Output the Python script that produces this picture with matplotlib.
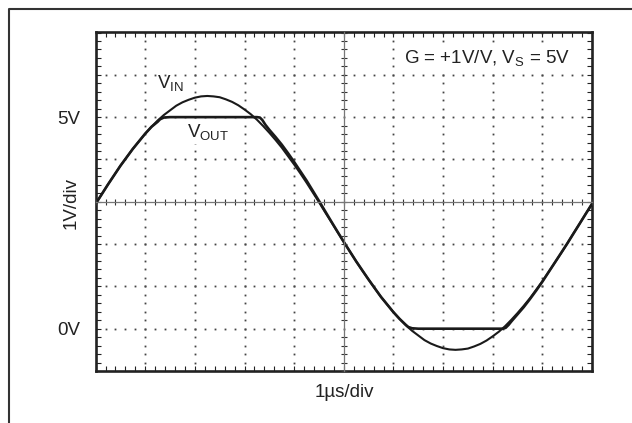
import numpy as np
import matplotlib.pyplot as plt
from matplotlib.lines import Line2D

plt.rcParams['font.family'] = ['Liberation Sans', 'DejaVu Sans']
plt.rcParams['mathtext.fontset'] = 'custom'
plt.rcParams['mathtext.rm'] = 'Liberation Sans'
plt.rcParams['mathtext.it'] = 'Liberation Sans'

# Entrada (VIN), em V, a cada 0.125 us
t_in = np.arange(0, 10.001, 0.125)
v_in = [2.95, 3.18, 3.41, 3.63, 3.85, 4.05, 4.25, 4.43, 4.61, 4.77,
        4.92, 5.05, 5.16, 5.27, 5.35, 5.41, 5.46, 5.49, 5.50, 5.49,
        5.47, 5.42, 5.36, 5.28, 5.18, 5.07, 4.94, 4.79, 4.63, 4.46,
        4.28, 4.08, 3.88, 3.67, 3.45, 3.22, 2.99, 2.75, 2.52, 2.28,
        2.05, 1.82, 1.59, 1.37, 1.16, 0.95, 0.75, 0.57, 0.39, 0.23,
        0.08, -0.05, -0.16, -0.27, -0.35, -0.41, -0.46, -0.49, -0.50, -0.49,
        -0.47, -0.42, -0.36, -0.28, -0.18, -0.07, 0.06, 0.21, 0.37, 0.54,
        0.72, 0.92, 1.12, 1.34, 1.56, 1.78, 2.01, 2.25, 2.48, 2.72, 2.95]

# Saída (VOUT) com grampeamento em 5V e 0V
t_out = [0, 0.125, 0.25, 0.375, 0.5, 0.625, 0.75, 0.875, 1.0, 1.125, 1.25, 1.3,
         1.375, 1.5, 2.0, 2.5, 3.0, 3.25, 3.31, 3.36, 3.42, 3.5, 3.625, 3.75,
         3.875, 4.0, 4.25, 4.5, 4.75, 5.0, 5.25, 5.5, 5.75, 6.0, 6.125, 6.25,
         6.3, 6.375, 6.5, 7.0, 7.5, 8.0, 8.2, 8.26, 8.32, 8.375, 8.5, 8.625,
         8.75, 8.875, 9.0, 9.25, 9.5, 9.75, 10.0]
v_out = [2.95, 3.18, 3.41, 3.63, 3.85, 4.05, 4.25, 4.43, 4.61, 4.77, 4.89, 4.95,
         4.99, 5.0, 5.0, 5.0, 5.0, 5.0, 4.99, 4.93, 4.82, 4.70, 4.53, 4.35,
         4.15, 3.94, 3.50, 3.02, 2.53, 2.05, 1.59, 1.16, 0.75, 0.39, 0.23, 0.09,
         0.04, 0.01, 0.0, 0.0, 0.0, 0.0, 0.0, 0.02, 0.09, 0.17, 0.34, 0.51,
         0.70, 0.90, 1.11, 1.56, 2.01, 2.48, 2.95]

y_labels = ['0V', '5V']
y_label_pos = [0, 5]

W, H = 632, 423
fig = plt.figure(figsize=(W / 100, H / 100), dpi=100)
pos = [95.6 / W, 1 - 371 / H, (592 - 95.6) / W, (371 - 32.5) / H]
ax = fig.add_axes(pos)
ax.set_xlim(0, 10)
ax.set_ylim(-1, 7)

# moldura externa
fig.add_artist(Line2D([9 / W, 9 / W, 1.0], [0, 1 - 9 / H, 1 - 9 / H],
                      color='#333333', lw=1.5, transform=fig.transFigure))

# grade pontilhada
dot = dict(ls='none', marker='s', ms=1.3, mew=0, color='#444444')
ys = np.arange(-1, 7.001, 0.2)
xs = np.arange(0, 10.001, 0.2)
for gx in [1, 2, 3, 4, 6, 7, 8, 9]:
    ax.plot(np.full_like(ys, gx), ys, **dot)
for gy in [0, 1, 2, 4, 5, 6]:
    ax.plot(xs, np.full_like(xs, gy), **dot)

# bordas e marcas
for s in ax.spines.values():
    s.set_linewidth(1.9)
    s.set_color('#222222')
ax.set_xticks(np.arange(0, 10.001, 0.2), minor=True)
ax.set_yticks(np.arange(-1, 7.001, 0.2), minor=True)
ax.set_xticks([])
ax.set_yticks(y_label_pos, y_labels)
ax.tick_params(which='both', direction='in', top=True, right=True,
               length=3.6, width=0.8, color='#222222')
ax.tick_params(axis='y', which='major', labelsize=13.5, pad=11, labelcolor='#222222')

# eixos centrais
ax2 = fig.add_axes(pos, sharex=ax, sharey=ax)
ax2.patch.set_visible(False)
ax2.spines['top'].set_visible(False)
ax2.spines['right'].set_visible(False)
ax2.spines['left'].set_position(('data', 5))
ax2.spines['bottom'].set_position(('data', 3))
for k in ['left', 'bottom']:
    ax2.spines[k].set_color('#777777')
    ax2.spines[k].set_linewidth(0.9)
ax2.tick_params(which='both', direction='inout', length=4.3, width=0.8,
                color='#333333', labelleft=False, labelbottom=False)
ax2.tick_params(which='major', length=0)
ax2.set_xticks(np.arange(0, 10.001, 0.2), minor=True)
ax2.set_yticks(np.arange(-1, 7.001, 0.2), minor=True)

# curvas
ax.plot(t_out, v_out, color='#1a1a1a', lw=1.9, solid_joinstyle='round', zorder=5)
ax.plot(t_in, v_in, color='#1a1a1a', lw=1.5, solid_joinstyle='round', zorder=6)

txt = dict(fontsize=13.5, color='#222222')
fundo = dict(facecolor='white', edgecolor='none', pad=1.5)
ax.text(1.24, 5.69, r'V$_{\mathrm{IN}}$', **txt)
ax.text(1.84, 4.54, r'V$_{\mathrm{OUT}}$', bbox=fundo, zorder=4, **txt)
ax.text(9.56, 6.29, r'G = +1V/V, V$_{\mathrm{S}}$ = 5V', ha='right',
        bbox=fundo, zorder=4, **txt)

fig.text(71.5 / W, 1 - 203 / H, '1V/div', rotation=90, ha='center', va='center', **txt)
fig.text(344 / W, 1 - 392 / H, '1µs/div', ha='center', va='center', **txt)

fig.savefig('out.png', dpi=100)
